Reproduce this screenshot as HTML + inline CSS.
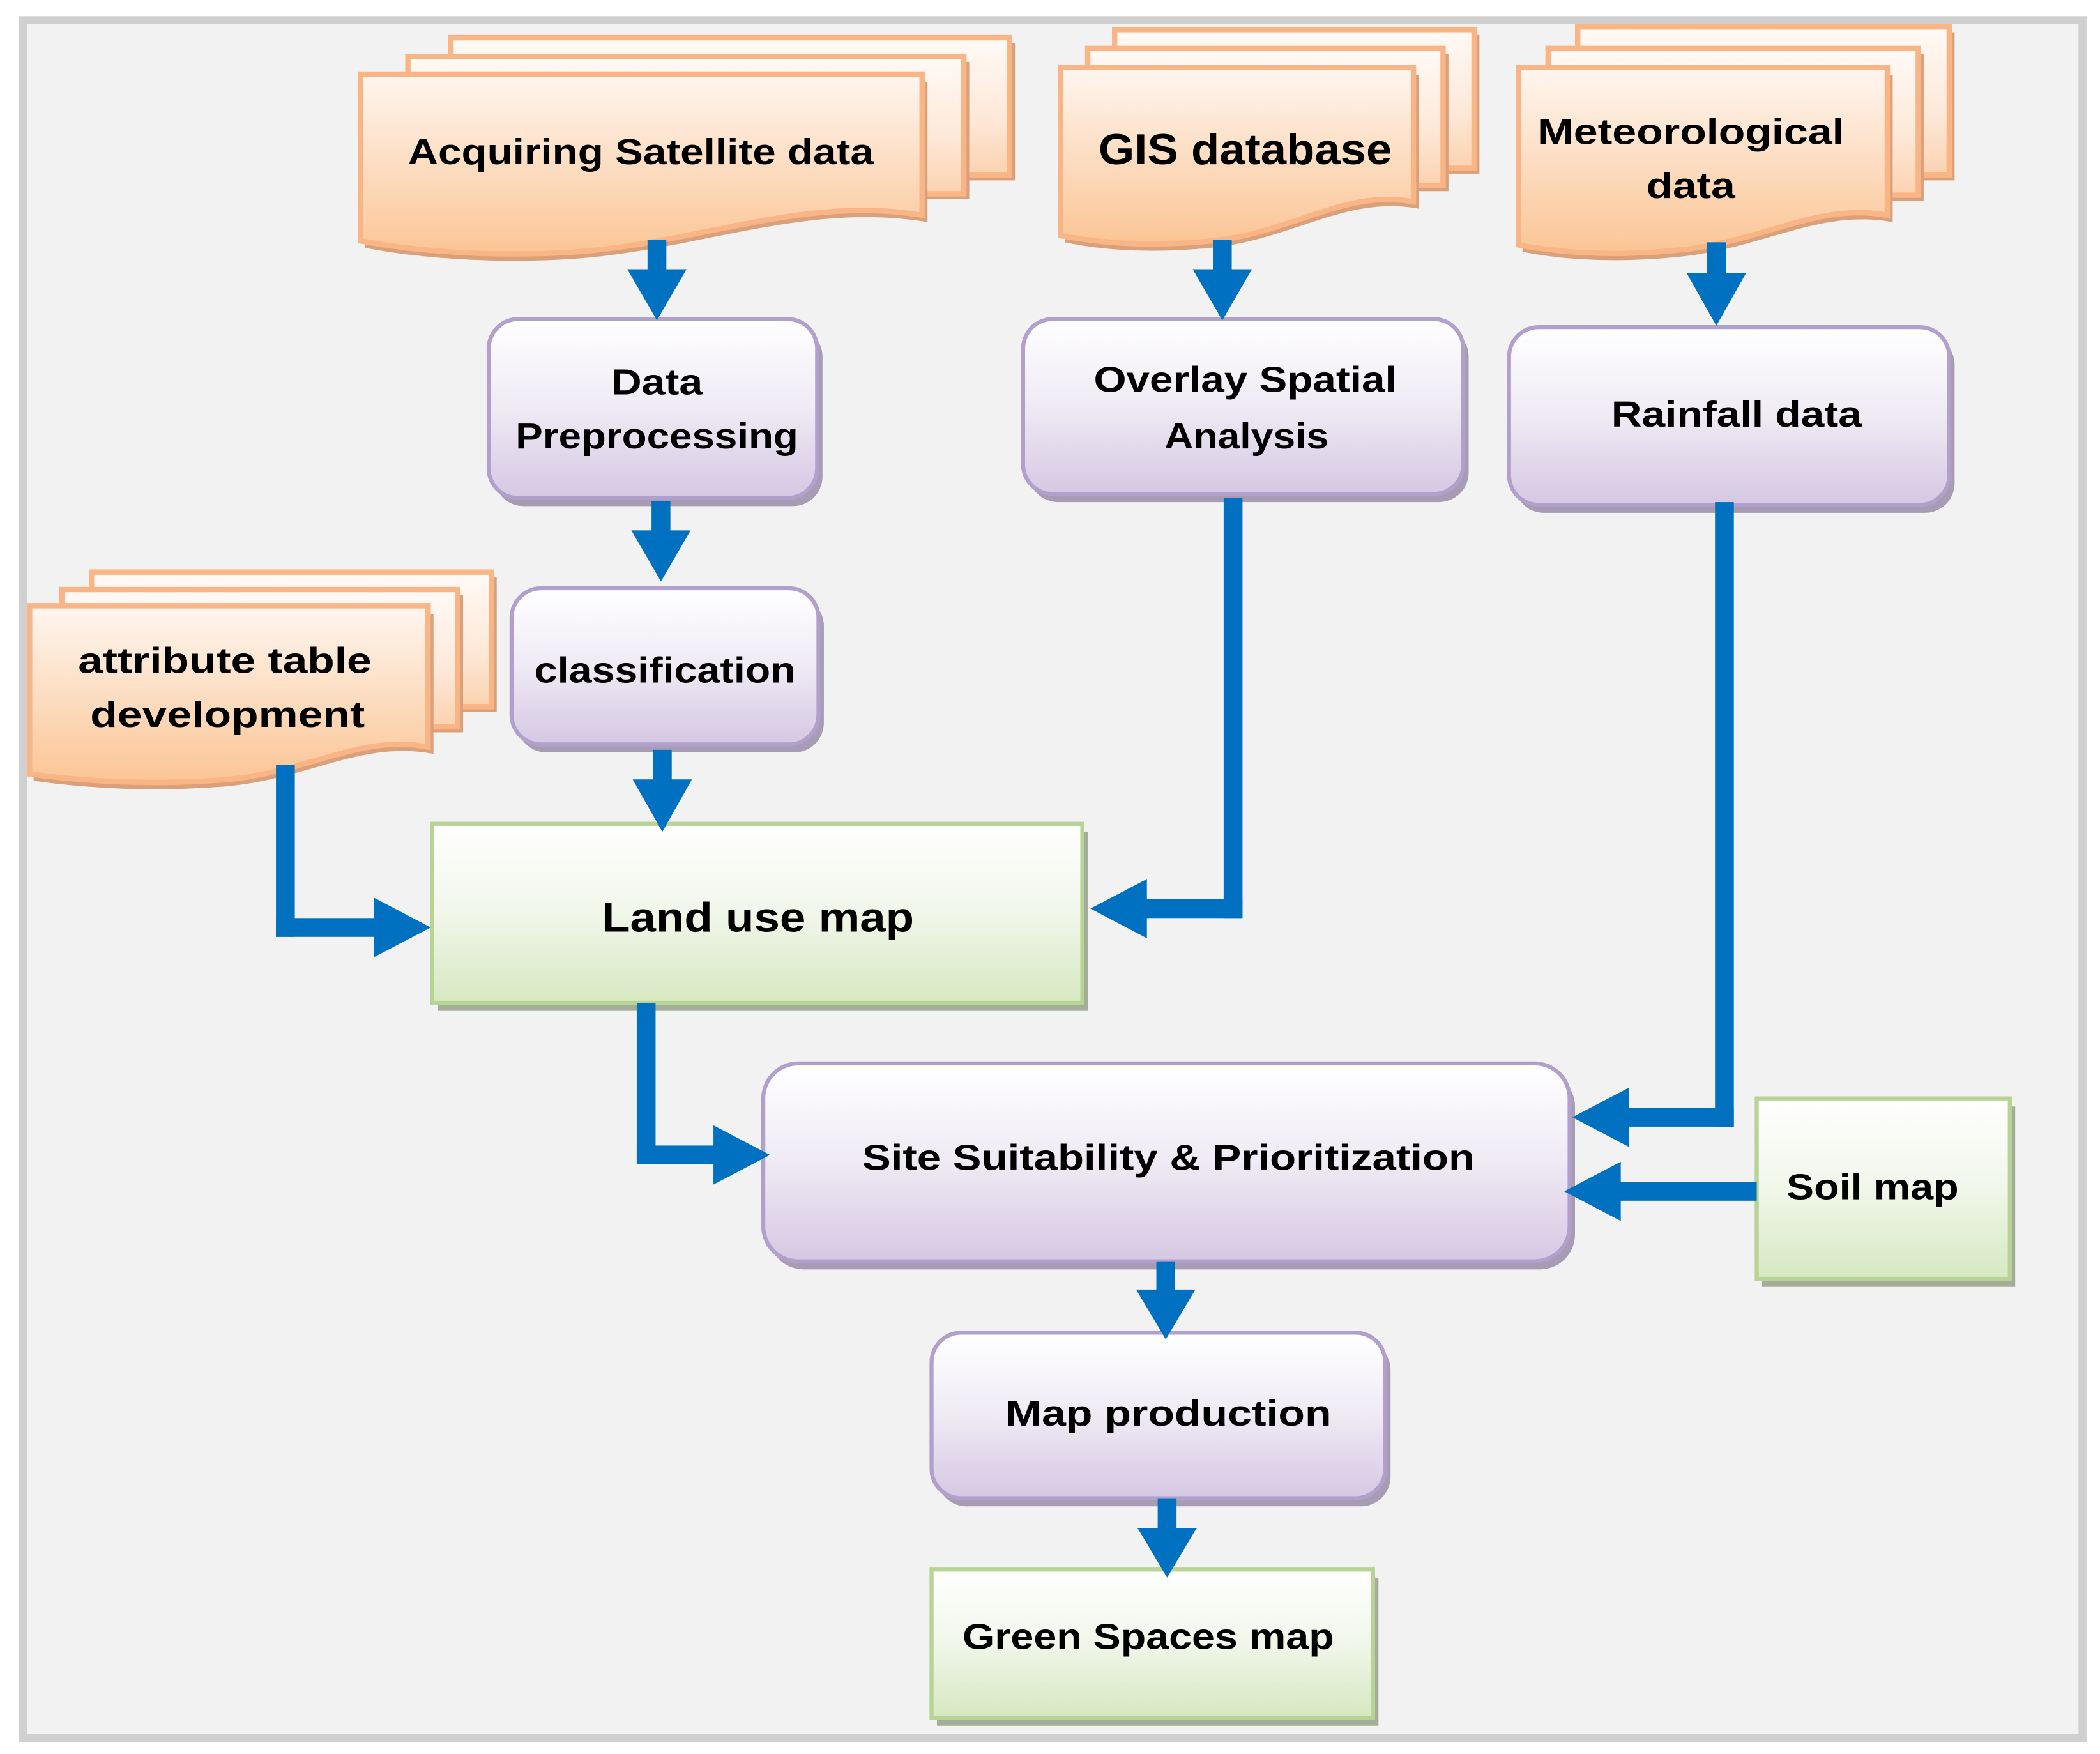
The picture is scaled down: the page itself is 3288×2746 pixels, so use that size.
<!DOCTYPE html>
<html><head><meta charset="utf-8"><style>html,body{margin:0;padding:0;background:#fff}svg{display:block}</style></head>
<body>
<svg width="3288" height="2746" viewBox="0 0 1560 1303" preserveAspectRatio="none" xmlns="http://www.w3.org/2000/svg" font-family="'Liberation Sans', sans-serif" font-weight="bold" fill="#000">
<defs>
<linearGradient id="gO" x1="0" y1="0" x2="0" y2="1"><stop offset="0" stop-color="#fef6f0"/><stop offset="1" stop-color="#fbc595"/></linearGradient>
<linearGradient id="gB" x1="0" y1="0" x2="0" y2="1"><stop offset="0" stop-color="#fffaf6"/><stop offset="0.6" stop-color="#fde8d8"/><stop offset="1" stop-color="#fbd2b0"/></linearGradient>
<linearGradient id="gP" x1="0" y1="0" x2="0" y2="1"><stop offset="0" stop-color="#ffffff"/><stop offset="0.5" stop-color="#efeaf4"/><stop offset="1" stop-color="#d5c8e3"/></linearGradient>
<linearGradient id="gG" x1="0" y1="0" x2="0" y2="1"><stop offset="0" stop-color="#ffffff"/><stop offset="0.5" stop-color="#f1f6ea"/><stop offset="1" stop-color="#d6e8c1"/></linearGradient>
</defs>
<rect x="0" y="0" width="1560" height="1303" fill="#fff"/>
<rect x="17" y="15" width="1530" height="1276" fill="#f2f2f2" stroke="#d0d0d0" stroke-width="6"/>

<g stroke="#f9b585" stroke-width="4">
 <rect x="339" y="32" width="415" height="102" fill="#d9a07a" stroke="none"/>
 <rect x="335" y="28" width="415" height="102" fill="url(#gB)"/>
 <rect x="307" y="46" width="413" height="102" fill="#d9a07a" stroke="none"/>
 <rect x="303" y="42" width="413" height="102" fill="url(#gB)"/>
 <path d="M271,61 H689 V165 C600,150 520,185 430,192 C360,197 300,190 271,184 Z" fill="#d9a07a" stroke="none"/>
 <path d="M268,55 H685 V160 C600,145 520,180 430,187 C360,192 300,185 268,179 Z" fill="url(#gO)"/>
 <rect x="832" y="26" width="267" height="103" fill="#d9a07a" stroke="none"/>
 <rect x="828" y="22" width="267" height="103" fill="url(#gB)"/>
 <rect x="812" y="40" width="264" height="102" fill="#d9a07a" stroke="none"/>
 <rect x="808" y="36" width="264" height="102" fill="url(#gB)"/>
 <path d="M791,56 H1054 V155 C1000,145 960,178 900,184 C850,189 815,185 791,180 Z" fill="#d9a07a" stroke="none"/>
 <path d="M788,50 H1050 V150 C1000,140 960,173 900,179 C850,184 815,180 788,175 Z" fill="url(#gO)"/>
 <rect x="1176" y="24" width="276" height="110" fill="#d9a07a" stroke="none"/>
 <rect x="1172" y="20" width="276" height="110" fill="url(#gB)"/>
 <rect x="1154" y="40" width="275" height="109" fill="#d9a07a" stroke="none"/>
 <rect x="1150" y="36" width="275" height="109" fill="url(#gB)"/>
 <path d="M1131,56 H1406 V165 C1350,155 1310,185 1245,191 C1195,196 1155,192 1131,187 Z" fill="#d9a07a" stroke="none"/>
 <path d="M1128,50 H1402 V160 C1350,150 1310,180 1245,186 C1195,191 1155,187 1128,182 Z" fill="url(#gO)"/>
 <rect x="72" y="429" width="297" height="100" fill="#d9a07a" stroke="none"/>
 <rect x="68" y="425" width="297" height="100" fill="url(#gB)"/>
 <rect x="50" y="442" width="294" height="102" fill="#d9a07a" stroke="none"/>
 <rect x="46" y="438" width="294" height="102" fill="url(#gB)"/>
 <path d="M25,456 H322 V560 C270,550 230,578 170,584 C110,589 60,585 25,580 Z" fill="#d9a07a" stroke="none"/>
 <path d="M22,450 H318 V555 C270,545 230,573 170,579 C110,584 60,580 22,575 Z" fill="url(#gO)"/>
</g>

<g stroke="#b1a0cc" stroke-width="3">
 <rect x="367" y="243" width="244" height="133" rx="22" fill="#a89bb4" stroke="none"/>
 <rect x="363" y="237" width="244" height="133" rx="22" fill="url(#gP)"/>
 <rect x="384" y="443" width="228" height="116" rx="22" fill="#a89bb4" stroke="none"/>
 <rect x="380" y="437" width="228" height="116" rx="22" fill="url(#gP)"/>
 <rect x="764" y="243" width="327" height="130" rx="22" fill="#a89bb4" stroke="none"/>
 <rect x="760" y="237" width="327" height="130" rx="22" fill="url(#gP)"/>
 <rect x="1125" y="249" width="327" height="132" rx="22" fill="#a89bb4" stroke="none"/>
 <rect x="1121" y="243" width="327" height="132" rx="22" fill="url(#gP)"/>
 <rect x="571" y="796" width="599" height="147" rx="26" fill="#a89bb4" stroke="none"/>
 <rect x="567" y="790" width="599" height="147" rx="26" fill="url(#gP)"/>
 <rect x="696" y="996" width="337" height="123" rx="22" fill="#a89bb4" stroke="none"/>
 <rect x="692" y="990" width="337" height="123" rx="22" fill="url(#gP)"/>
</g>

<g stroke="#b7d396" stroke-width="3">
 <rect x="325" y="618" width="483" height="133" fill="#a3ad98" stroke="none"/>
 <rect x="321" y="612" width="483" height="133" fill="url(#gG)"/>
 <rect x="1309" y="822" width="188" height="134" fill="#a3ad98" stroke="none"/>
 <rect x="1305" y="816" width="188" height="134" fill="url(#gG)"/>
 <rect x="696" y="1172" width="328" height="110" fill="#a3ad98" stroke="none"/>
 <rect x="692" y="1166" width="328" height="110" fill="url(#gG)"/>
</g>

<g fill="#0070c0" stroke="none">
 <rect x="481" y="178" width="14" height="24"/><polygon points="466,200 510,200 488,238"/>
 <rect x="484" y="372" width="14" height="24"/><polygon points="469,394 513,394 491,432"/>
 <rect x="485" y="557" width="14" height="24"/><polygon points="470,579 514,579 492,618"/>
 <rect x="901" y="178" width="14" height="24"/><polygon points="886,200 930,200 908,238"/>
 <rect x="1268" y="180" width="14" height="25"/><polygon points="1253,203 1297,203 1275,242"/>
 <rect x="859" y="937" width="14" height="23"/><polygon points="844,958 888,958 866,995"/>
 <rect x="860" y="1113" width="14" height="24"/><polygon points="845,1135 889,1135 867,1172"/>
 <rect x="205" y="568" width="14" height="128"/><rect x="205" y="682" width="75" height="14"/><polygon points="278,667 278,711 320,689"/>
 <rect x="909" y="370" width="14" height="312"/><rect x="850" y="668" width="73" height="14"/><polygon points="852,653 852,697 810,675"/>
 <rect x="473" y="745" width="14" height="120"/><rect x="473" y="851" width="59" height="14"/><polygon points="530,836 530,880 572,858"/>
 <rect x="1274" y="373" width="14" height="464"/><rect x="1208" y="823" width="80" height="14"/><polygon points="1210,808 1210,852 1168,830"/>
 <rect x="1202" y="878" width="103" height="14"/><polygon points="1204,863 1204,907 1162,885"/>
</g>

<g text-anchor="middle" font-size="27">
 <text x="476" y="122" textLength="346" lengthAdjust="spacingAndGlyphs">Acquiring Satellite data</text>
 <text x="925" y="122" font-size="32" textLength="218" lengthAdjust="spacingAndGlyphs">GIS database</text>
 <text x="1256" y="107" textLength="228" lengthAdjust="spacingAndGlyphs">Meteorological</text>
 <text x="1256" y="147" textLength="66" lengthAdjust="spacingAndGlyphs">data</text>
 <text x="167" y="500" textLength="218" lengthAdjust="spacingAndGlyphs">attribute table</text>
 <text x="169" y="540" textLength="204" lengthAdjust="spacingAndGlyphs">development</text>
 <text x="488" y="293" textLength="68" lengthAdjust="spacingAndGlyphs">Data</text>
 <text x="488" y="333" textLength="210" lengthAdjust="spacingAndGlyphs">Preprocessing</text>
 <text x="494" y="507" textLength="194" lengthAdjust="spacingAndGlyphs">classification</text>
 <text x="925" y="291" textLength="225" lengthAdjust="spacingAndGlyphs">Overlay Spatial</text>
 <text x="926" y="333" textLength="122" lengthAdjust="spacingAndGlyphs">Analysis</text>
 <text x="1290" y="317" textLength="186" lengthAdjust="spacingAndGlyphs">Rainfall data</text>
 <text x="563" y="692" font-size="31" textLength="232" lengthAdjust="spacingAndGlyphs">Land use map</text>
 <text x="868" y="869" textLength="455" lengthAdjust="spacingAndGlyphs">Site Suitability &amp; Prioritization</text>
 <text x="1391" y="891" textLength="128" lengthAdjust="spacingAndGlyphs">Soil map</text>
 <text x="868" y="1059" textLength="242" lengthAdjust="spacingAndGlyphs">Map production</text>
 <text x="853" y="1225" textLength="276" lengthAdjust="spacingAndGlyphs">Green Spaces map</text>
</g>
</svg>
</body></html>
